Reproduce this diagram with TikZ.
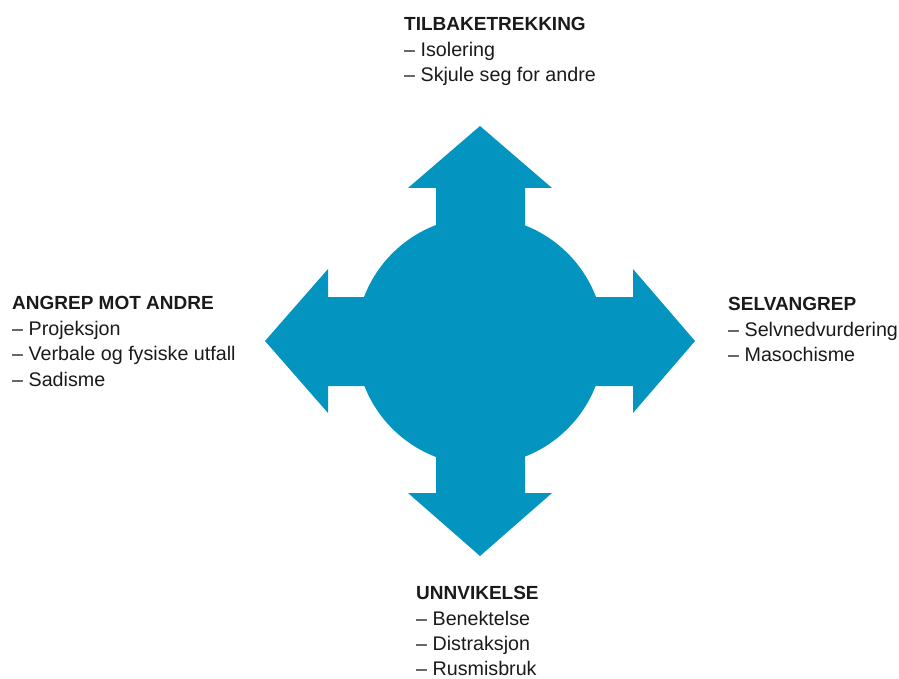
\documentclass[tikz,border=0pt]{standalone}
\usepackage{fontspec}
\setmainfont{Liberation Sans}
\definecolor{blu}{HTML}{0395C0}
\definecolor{ink}{HTML}{1A1A1A}
\tikzset{
  ttl/.style={anchor=base west, inner sep=0pt, text=ink, font=\fontsize{19}{21}\selectfont\bfseries},
  itm/.style={anchor=base west, inner sep=0pt, text=ink, font=\fontsize{19.7}{21}\selectfont},
  bluefill/.style={fill=blu, draw=none}
}
\begin{document}
\begin{tikzpicture}[x=1pt,y=-1pt]
\useasboundingbox (0,0) rectangle (899,679);
% central figure
\fill[bluefill] (480,341) circle (124);
\fill[bluefill] (436,262) -- (436,188) -- (408,188) -- (480,126) -- (552,188) -- (525,188) -- (525,262) -- cycle;
\fill[bluefill] (436,420) -- (436,493) -- (408,493) -- (480,556) -- (552,493) -- (525,493) -- (525,420) -- cycle;
\fill[bluefill] (402,297) -- (328,297) -- (328,269) -- (265,341) -- (328,413) -- (328,386) -- (402,386) -- cycle;
\fill[bluefill] (558,297) -- (633,297) -- (633,269) -- (695,341) -- (633,413) -- (633,386) -- (558,386) -- cycle;
% top
\node[ttl] (t0) at (404,31) {TILBAKETREKKING};
\node[itm] (t1) at (404,57) {– Isolering};
\node[itm] (t2) at (404,82) {– Skjule seg for andre};
% left
\node[ttl] (l0) at (12,309) {ANGREP MOT ANDRE};
\node[itm] (l1) at (12,335) {– Projeksjon};
\node[itm] (l2) at (12,360) {– Verbale og fysiske utfall};
\node[itm] (l3) at (12,386) {– Sadisme};
% right
\node[ttl] (r0) at (728,310) {SELVANGREP};
\node[itm] (r1) at (728,336) {– Selvnedvurdering};
\node[itm] (r2) at (728,361) {– Masochisme};
% bottom
\node[ttl] (b0) at (416,599) {UNNVIKELSE};
\node[itm] (b1) at (416,625) {– Benektelse};
\node[itm] (b2) at (416,650) {– Distraksjon};
\node[itm] (b3) at (416,675) {– Rusmisbruk};
\end{tikzpicture}
\end{document}
